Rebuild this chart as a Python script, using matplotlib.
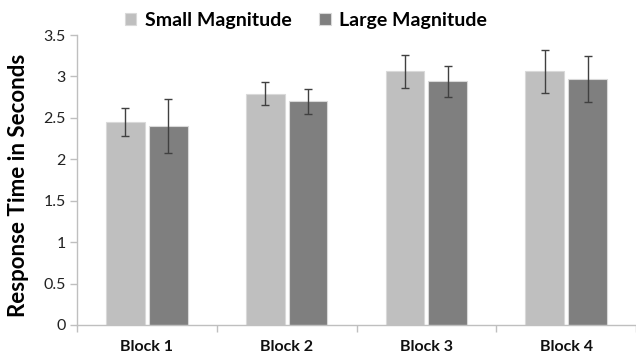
import matplotlib
matplotlib.use("Agg")
import matplotlib.pyplot as plt
import numpy as np

plt.rcParams['font.family'] = ['Lato', 'DejaVu Sans']

categories = ["Block 1", "Block 2", "Block 3", "Block 4"]
series_names = ["Small Magnitude", "Large Magnitude"]
small_vals = [2.45, 2.79, 3.06, 3.06]
small_err = [0.165, 0.14, 0.195, 0.26]
large_vals = [2.40, 2.70, 2.94, 2.97]
large_err = [0.33, 0.15, 0.19, 0.28]
yticks = [0, 0.5, 1, 1.5, 2, 2.5, 3, 3.5]
ytick_labels = ["0", "0.5", "1", "1.5", "2", "2.5", "3", "3.5"]

colors = ["#bfbfbf", "#7f7f7f"]
axis_col = "#bfbfbf"

fig = plt.figure(figsize=(6.36, 3.57), dpi=100)
ax = fig.add_axes([77/636, 1 - 325/357, (636 - 77)/636, (325 - 35)/357])

x = np.arange(len(categories))
w = 0.277
off = 0.153
for vals, errs, c, o, name in [(small_vals, small_err, colors[0], -off, series_names[0]),
                               (large_vals, large_err, colors[1], off, series_names[1])]:
    ax.bar(x + o, vals, width=w, color=c, edgecolor="#d9d9d9", linewidth=0.8, label=name, zorder=2)
    ax.errorbar(x + o, vals, yerr=errs, fmt="none", ecolor="#404040", elinewidth=1.0,
                capsize=3, capthick=1.0, zorder=3)

ax.set_xlim(-0.5, 3.465)
ax.set_ylim(0, 3.5)
ax.set_yticks(yticks)
ax.set_yticklabels(ytick_labels, fontsize=11.5, color="#222222")
ax.set_xticks(x)
ax.set_xticklabels(categories, fontsize=11.5, fontweight="bold", color="#111111")
ax.set_xticks(np.arange(-0.5, 3.6, 1.0), minor=True)
ax.tick_params(axis="x", which="major", length=0, pad=11)
ax.tick_params(axis="x", which="minor", length=5, color=axis_col, width=1)
ax.tick_params(axis="y", length=5, color=axis_col, width=1, pad=3)

for s in ["top", "right"]:
    ax.spines[s].set_visible(False)
for s in ["left", "bottom"]:
    ax.spines[s].set_color(axis_col)
    ax.spines[s].set_linewidth(1)

ax.set_ylabel("Response Time in Seconds", fontsize=16, fontweight="bold")
ax.yaxis.set_label_coords(-0.086, 0.48)

leg = fig.legend(loc="upper left", bbox_to_anchor=(113/636, 1.0), ncol=2, frameon=False,
                 prop={"weight": "bold", "size": 14}, handlelength=0.6, handleheight=0.6,
                 handletextpad=0.45, columnspacing=1.4, borderaxespad=0.2)

fig.savefig("out.png", dpi=100)
